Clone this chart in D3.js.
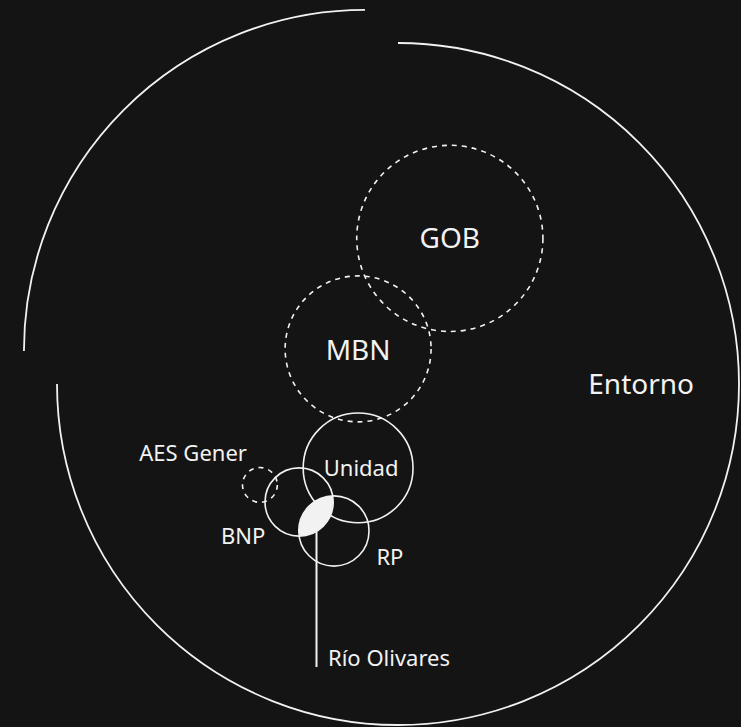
<!DOCTYPE html>
<html><head><meta charset="utf-8">
<script src="https://cdn.jsdelivr.net/npm/d3@7"></script>
<style>
html,body{margin:0;padding:0;background:#141414;}
svg{display:block;}
text{font-family:"Noto Sans","Open Sans",sans-serif;fill:#f2f2f2;}
</style></head>
<body>
<svg id="chart" width="741" height="727"></svg>
<script>
// Data (units: outer "Entorno" circle radius = 100, centre at 0,0, y downwards)
const names   = ["GOB", "MBN", "Unidad", "AES Gener", "BNP", "RP"];
const xs      = [15.2, -11.7, -11.7, -40.5, -29.0, -18.8];
const ys      = [-42.7, -10.3, 24.6, 29.6, 34.6, 43.1];
const radii   = [27.3, 21.4, 16.1, 5.1, 10.0, 10.3];
const kinds   = ["external", "external", "internal", "external", "internal", "internal"];
const outerName = "Entorno";
const outerRadius = 100;
const sliceOffset = [-9.7, -9.7];      // exploded top-left quarter of Entorno
const overlapPair = ["BNP", "RP"];
const overlapName = "Río Olivares";

const W = 741, H = 727;
const svg = d3.select("#chart");
svg.append("rect").attr("width", W).attr("height", H).attr("fill", "#141414");

const x = d3.scaleLinear().domain([-100, 100]).range([398 - 341, 398 + 341]);
const y = d3.scaleLinear().domain([-100, 100]).range([384 - 341, 384 + 341]);
const rs = d3.scaleLinear().domain([0, 100]).range([0, 341]);

const stroke = "#f2f2f2";

// Outer circle as two arcs (one exploded quarter)
const R = rs(outerRadius);
const p1 = d3.path();
p1.arc(x(sliceOffset[0]), y(sliceOffset[1]), R, Math.PI, 1.5 * Math.PI);
svg.append("path").attr("d", p1.toString()).attr("fill", "none")
  .attr("stroke", stroke).attr("stroke-width", 1.8);
const p2 = d3.path();
p2.arc(x(0), y(0), R, -0.5 * Math.PI, Math.PI);
svg.append("path").attr("d", p2.toString()).attr("fill", "none")
  .attr("stroke", stroke).attr("stroke-width", 1.8);

const nodes = names.map((n, i) => ({name: n, x: xs[i], y: ys[i], r: radii[i], kind: kinds[i]}));
const byName = Object.fromEntries(nodes.map(d => [d.name, d]));

// overlap lens
const a = byName[overlapPair[0]], b = byName[overlapPair[1]];
svg.append("clipPath").attr("id", "lensclip")
  .append("circle").attr("cx", x(b.x)).attr("cy", y(b.y)).attr("r", rs(b.r));
svg.append("circle").attr("cx", x(a.x)).attr("cy", y(a.y)).attr("r", rs(a.r))
  .attr("fill", stroke).attr("clip-path", "url(#lensclip)");

// circles
svg.selectAll("circle.node").data(nodes).join("circle")
  .attr("class", "node")
  .attr("cx", d => x(d.x)).attr("cy", d => y(d.y)).attr("r", d => rs(d.r))
  .attr("fill", "none").attr("stroke", stroke)
  .attr("stroke-width", d => d.kind === "external" ? 1.6 : 1.6)
  .attr("stroke-dasharray", d => d.kind === "external" ? "5,5" : null);

// lens leader line
const lx = 316.5;
const lensCy = (y(a.y) + y(b.y)) / 2;
svg.append("line").attr("x1", lx).attr("x2", lx).attr("y1", lensCy).attr("y2", 667)
  .attr("stroke", stroke).attr("stroke-width", 2);
svg.append("text").attr("x", 328).attr("y", 658).attr("dy", "0.35em")
  .attr("font-size", 22).text(overlapName);

// labels
const labelPos = {
  "GOB":      {dx: 0,  dy: 0,  anchor: "middle", size: 28},
  "MBN":      {dx: 0,  dy: 1,  anchor: "middle", size: 28},
  "Unidad":   {dx: 3,  dy: 0,  anchor: "middle", size: 22},
  "AES Gener":{dx: -13, dy: -32, anchor: "end", size: 22},
  "BNP":      {dx: -56, dy: 34, anchor: "middle", size: 22},
  "RP":       {dx: 56, dy: 26, anchor: "middle", size: 22}
};
svg.selectAll("text.lab").data(nodes).join("text")
  .attr("class", "lab")
  .attr("x", d => x(d.x) + labelPos[d.name].dx)
  .attr("y", d => y(d.y) + labelPos[d.name].dy)
  .attr("dy", "0.35em")
  .attr("text-anchor", d => labelPos[d.name].anchor)
  .attr("font-size", d => labelPos[d.name].size)
  .text(d => d.name);

svg.append("text").attr("x", x(71.3)).attr("y", y(0)).attr("dy", "0.35em")
  .attr("text-anchor", "middle").attr("font-size", 28).text(outerName);
</script>
</body></html>
